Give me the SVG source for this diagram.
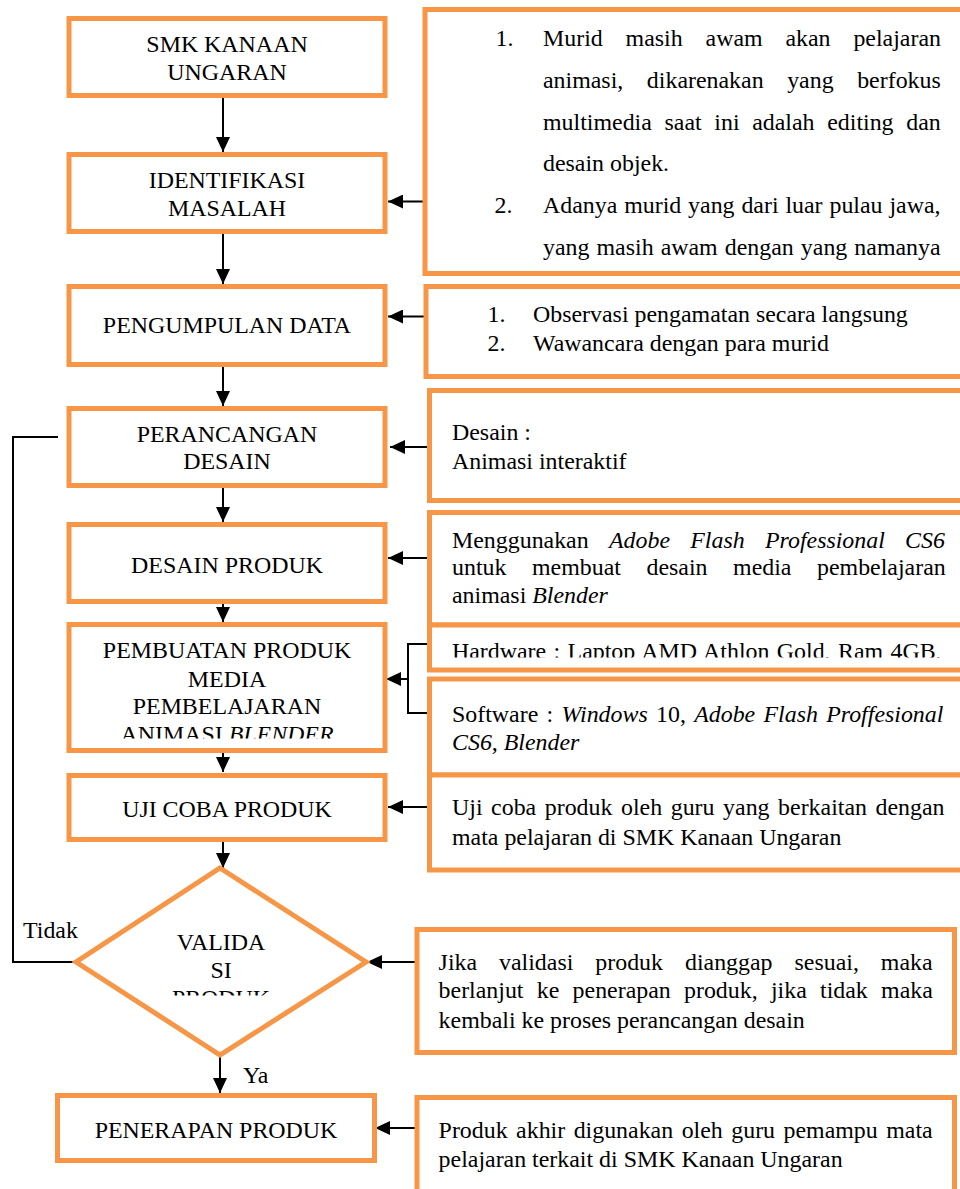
<svg xmlns="http://www.w3.org/2000/svg" width="960" height="1189" viewBox="0 0 960 1189">
<style>
.box{fill:#fff;stroke:#F79646;stroke-width:5;stroke-linejoin:miter}
.lt{font-family:"Liberation Serif","Times New Roman",serif;font-size:23.9px;text-anchor:middle;fill:#000}
.rt{font-family:"Liberation Serif","Times New Roman",serif;font-size:23.9px;fill:#000}
.lbl{font-family:"Liberation Serif","Times New Roman",serif;font-size:23.9px;fill:#000}
.con{fill:none;stroke:#000;stroke-width:2}
.it{font-style:italic}
</style>
<defs>
<marker id="ah" markerUnits="userSpaceOnUse" markerWidth="15" markerHeight="14" viewBox="0 0 15 14" refX="15" refY="7" orient="auto">
<path d="M0,0 L15,7 L0,14 z" fill="#000"/>
</marker>
<clipPath id="cB6"><rect x="60" y="615" width="340" height="123.5"/></clipPath>
<clipPath id="cDia"><rect x="60" y="860" width="320" height="135.5"/></clipPath>
<clipPath id="cHW"><rect x="420" y="620" width="540" height="37.5"/></clipPath>
</defs>

<g id="connectors">
<line class="con" x1="223" y1="98" x2="223" y2="152" marker-end="url(#ah)"/>
<line class="con" x1="223" y1="234" x2="223" y2="284" marker-end="url(#ah)"/>
<line class="con" x1="223" y1="367" x2="223" y2="406" marker-end="url(#ah)"/>
<line class="con" x1="223" y1="488" x2="223" y2="522" marker-end="url(#ah)"/>
<line class="con" x1="223" y1="604" x2="223" y2="622" marker-end="url(#ah)"/>
<line class="con" x1="223" y1="753" x2="223" y2="772" marker-end="url(#ah)"/>
<line class="con" x1="223" y1="842" x2="223" y2="868" marker-end="url(#ah)"/>
<line class="con" x1="220" y1="1055" x2="220" y2="1093" marker-end="url(#ah)"/>
<line class="con" x1="425" y1="201.5" x2="388" y2="201.5" marker-end="url(#ah)"/>
<line class="con" x1="426" y1="316.5" x2="388" y2="316.5" marker-end="url(#ah)"/>
<line class="con" x1="429" y1="447" x2="390" y2="447" marker-end="url(#ah)"/>
<line class="con" x1="429" y1="558" x2="388" y2="558" marker-end="url(#ah)"/>
<polyline class="con" points="428,644 408,644 408,713 428,713"/>
<line class="con" x1="408" y1="679" x2="386" y2="679" marker-end="url(#ah)"/>
<line class="con" x1="429" y1="807" x2="388" y2="807" marker-end="url(#ah)"/>
<line class="con" x1="417" y1="962" x2="367" y2="962" marker-end="url(#ah)"/>
<line class="con" x1="417" y1="1128" x2="375" y2="1128" marker-end="url(#ah)"/>
<polyline class="con" points="58,437 13,437 13,962 76,962"/>
</g>

<g id="smk">
<rect class="box" x="69" y="18.5" width="316" height="77"/>
<text class="lt" x="227" y="52">SMK KANAAN</text>
<text class="lt" x="227" y="80">UNGARAN</text>
</g>
<g id="identifikasi">
<rect class="box" x="69" y="154.5" width="316" height="77"/>
<text class="lt" x="227" y="188">IDENTIFIKASI</text>
<text class="lt" x="227" y="216">MASALAH</text>
</g>
<g id="pengumpulan">
<rect class="box" x="69" y="286.5" width="316" height="78"/>
<text class="lt" x="227" y="333">PENGUMPULAN DATA</text>
</g>
<g id="perancangan">
<rect class="box" x="69" y="408.5" width="316" height="77"/>
<text class="lt" x="227" y="442">PERANCANGAN</text>
<text class="lt" x="227" y="469">DESAIN</text>
</g>
<g id="desain-produk">
<rect class="box" x="69" y="524.5" width="316" height="77"/>
<text class="lt" x="227" y="573">DESAIN PRODUK</text>
</g>
<g id="pembuatan">
<rect class="box" x="69" y="624.5" width="316" height="126"/>
<g clip-path="url(#cB6)">
<text class="lt" x="227" y="658">PEMBUATAN PRODUK</text>
<text class="lt" x="227" y="686.5">MEDIA</text>
<text class="lt" x="227" y="714">PEMBELAJARAN</text>
<text class="lt" x="227" y="742">ANIMASI <tspan class="it">BLENDER</tspan></text>
</g>
</g>
<g id="uji-coba">
<rect class="box" x="69" y="775.5" width="316" height="64"/>
<text class="lt" x="227" y="817">UJI COBA PRODUK</text>
</g>
<g id="validasi">
<polygon class="box" points="220,868 366,962 220,1055 76,962"/>
<g clip-path="url(#cDia)">
<text class="lt" x="221" y="950">VALIDA</text>
<text class="lt" x="221" y="978">SI</text>
<text class="lt" x="221" y="1006">PRODUK</text>
</g>
</g>
<g id="penerapan">
<rect class="box" x="57.5" y="1095.5" width="317" height="65"/>
<text class="lt" x="216" y="1138">PENERAPAN PRODUK</text>
</g>
<text class="lbl" x="23" y="938">Tidak</text>
<text class="lbl" x="243" y="1083">Ya</text>

<g id="note-masalah">
<rect class="box" x="425" y="9.5" width="560" height="264"/>
<text class="rt" x="495.5" y="46">1.</text>
<text class="rt" x="543" y="46" word-spacing="16.9">Murid masih awam akan pelajaran</text>
<text class="rt" x="543" y="88" word-spacing="17.6">animasi, dikarenakan yang berfokus</text>
<text class="rt" x="543" y="130" word-spacing="6.7">multimedia saat ini adalah editing dan</text>
<text class="rt" x="543" y="171">desain objek.</text>
<text class="rt" x="494.5" y="213">2.</text>
<text class="rt" x="543" y="213" word-spacing="0.9">Adanya murid yang dari luar pulau jawa,</text>
<text class="rt" x="543" y="255" word-spacing="1.1">yang masih awam dengan yang namanya</text>
</g>
<g id="note-data">
<rect class="box" x="426" y="286.5" width="560" height="90"/>
<text class="rt" y="322"><tspan x="487.5">1.</tspan><tspan x="533">Observasi pengamatan secara langsung</tspan></text>
<text class="rt" y="351"><tspan x="487.5">2.</tspan><tspan x="533">Wawancara dengan para murid</tspan></text>
</g>
<g id="note-desain">
<rect class="box" x="429.5" y="390.5" width="560" height="110"/>
<text class="rt" x="452" y="440">Desain :</text>
<text class="rt" x="452" y="469">Animasi interaktif</text>
</g>
<g id="note-produk">
<rect class="box" x="429.5" y="512.5" width="560" height="112.5"/>
<text class="rt" x="452" y="548" word-spacing="14.3">Menggunakan <tspan class="it">Adobe Flash Professional CS6</tspan></text>
<text class="rt" x="452" y="575" word-spacing="19.6">untuk membuat desain media pembelajaran</text>
<text class="rt" x="452" y="603">animasi <tspan class="it">Blender</tspan></text>
</g>
<g id="note-hardware">
<rect class="box" x="429.5" y="625" width="560" height="45"/>
<g clip-path="url(#cHW)">
<text class="rt" x="452" y="659" word-spacing="1.4">Hardware : Laptop AMD Athlon Gold, Ram 4GB,</text>
</g>
</g>
<g id="note-software">
<rect class="box" x="429.5" y="679" width="560" height="96"/>
<text class="rt" x="452" y="722" word-spacing="2.3">Software : <tspan class="it">Windows</tspan> 10, <tspan class="it">Adobe Flash Proffesional</tspan></text>
<text class="rt it" x="452" y="750">CS6, Blender</text>
</g>
<g id="note-uji">
<rect class="box" x="429.5" y="775" width="560" height="95"/>
<text class="rt" x="452" y="815" word-spacing="2.6">Uji coba produk oleh guru yang berkaitan dengan</text>
<text class="rt" x="452" y="845">mata pelajaran di SMK Kanaan Ungaran</text>
</g>
<g id="note-validasi">
<rect class="box" x="417" y="929.5" width="537.5" height="123"/>
<text class="rt" x="438.6" y="970" word-spacing="16">Jika validasi produk dianggap sesuai, maka</text>
<text class="rt" x="438.6" y="998" word-spacing="7.3">berlanjut ke penerapan produk, jika tidak maka</text>
<text class="rt" x="438.6" y="1028">kembali ke proses perancangan desain</text>
</g>
<g id="note-penerapan">
<rect class="box" x="417" y="1097.5" width="537.5" height="130"/>
<text class="rt" x="438.6" y="1138" word-spacing="2.5">Produk akhir digunakan oleh guru pemampu mata</text>
<text class="rt" x="438.6" y="1167">pelajaran terkait di SMK Kanaan Ungaran</text>
</g>
</svg>
